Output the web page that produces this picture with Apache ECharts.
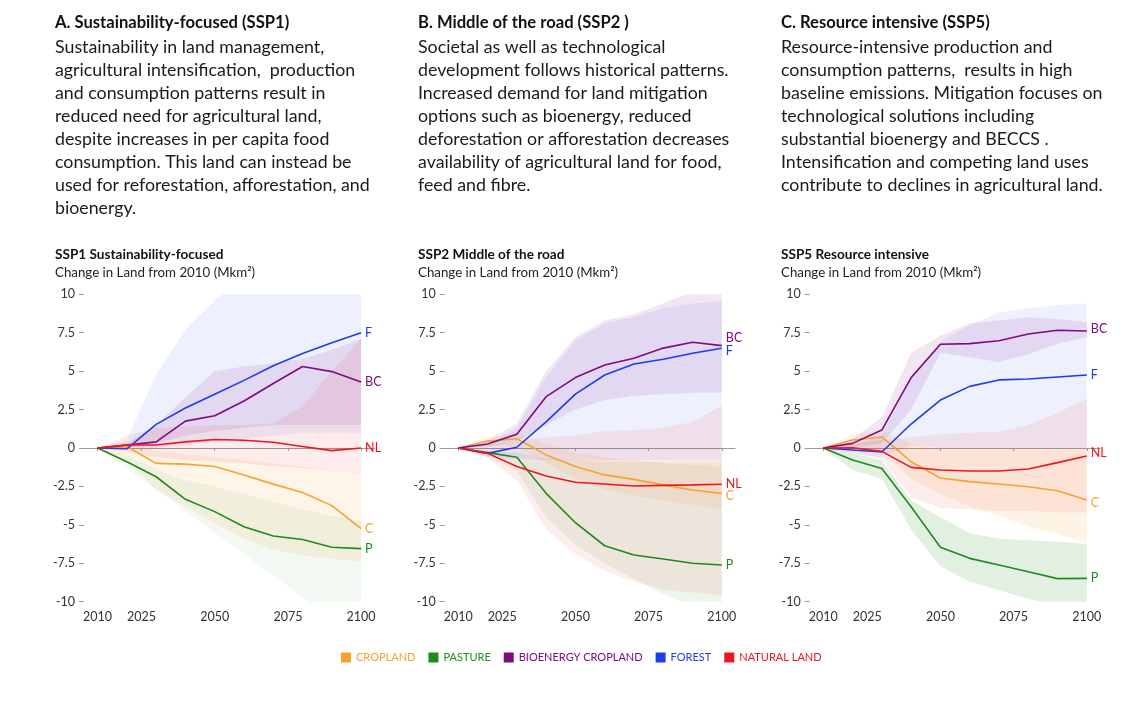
<!DOCTYPE html>
<html><head><meta charset="utf-8">
<script src="https://cdn.jsdelivr.net/npm/echarts@6/dist/echarts.min.js"></script>
<style>html,body{margin:0;padding:0;background:#fff}#main{width:1140px;height:705px}</style>
</head><body><div id="main"></div>
<script>
// ---------- DATA ----------
const years = [2010, 2020, 2030, 2040, 2050, 2060, 2070, 2080, 2090, 2100];
const xTickValues = [2010, 2025, 2050, 2075, 2100];
const landTypes = ['CROPLAND', 'PASTURE', 'BIOENERGY CROPLAND', 'FOREST', 'NATURAL LAND'];
const shortLabels = ['C', 'P', 'BC', 'F', 'NL'];

// SSP1 median paths
const ssp1_cropland = [0, 0.1, -1.0, -1.05, -1.2, -1.75, -2.35, -2.9, -3.75, -5.25];
const ssp1_pasture = [0, -0.9, -1.87, -3.34, -4.14, -5.12, -5.73, -5.95, -6.46, -6.55];
const ssp1_bioenergy = [0, 0.2, 0.4, 1.75, 2.1, 3.06, 4.2, 5.3, 4.97, 4.3];
const ssp1_forest = [0, -0.05, 1.54, 2.6, 3.5, 4.4, 5.35, 6.15, 6.85, 7.5];
const ssp1_natural = [0, 0.2, 0.2, 0.4, 0.55, 0.5, 0.37, 0.1, -0.17, 0.0];
// SSP1 ranges
const ssp1_cropland_lo = [0, -0.8, -2.7, -3.8, -4.9, -5.9, -6.6, -7.0, -7.2, -7.4];
const ssp1_cropland_hi = [0, 0.4, -0.2, -0.4, -0.6, -0.8, -1.0, -1.2, -1.5, -1.7];
const ssp1_pasture_lo = [0, -1.3, -2.7, -4.1, -5.5, -6.9, -8.3, -9.7, -11, -12];
const ssp1_pasture_hi = [0, -0.4, -1.4, -2.1, -2.5, -3.0, -3.5, -4.0, -4.4, -4.7];
const ssp1_bioenergy_lo = [0, 0, 0.3, 0.8, 1.1, 1.3, 1.5, 1.5, 1.5, 1.5];
const ssp1_bioenergy_hi = [0, 0.3, 1.5, 3.3, 5.0, 5.3, 5.5, 5.8, 6.4, 7.1];
const ssp1_forest_lo = [0, -0.1, 0, 0.2, 0.4, 0.6, 0.8, 1.0, 1.0, 1.0];
const ssp1_forest_hi = [0, 0.5, 4.8, 7.7, 9.6, 11, 12, 13, 14, 15];
const ssp1_natural_lo = [0, -0.3, -0.6, -0.8, -0.9, -1.0, -1.2, -1.3, -1.5, -1.7];
const ssp1_natural_hi = [0, 0.8, 1.3, 1.4, 1.5, 1.5, 1.6, 2.7, 5.0, 7.1];

// SSP2 median paths
const ssp2_cropland = [0, 0.45, 0.6, -0.45, -1.2, -1.75, -2.04, -2.4, -2.73, -2.95];
const ssp2_pasture = [0, -0.3, -0.6, -2.95, -4.86, -6.36, -6.96, -7.22, -7.5, -7.61];
const ssp2_bioenergy = [0, 0.26, 0.9, 3.34, 4.58, 5.4, 5.84, 6.5, 6.88, 6.66];
const ssp2_forest = [0, -0.35, 0.05, 1.7, 3.5, 4.75, 5.47, 5.77, 6.16, 6.49];
const ssp2_natural = [0, -0.35, -1.2, -1.82, -2.23, -2.34, -2.47, -2.43, -2.4, -2.36];
// SSP2 ranges
const ssp2_cropland_lo = [0, 0.1, 0.1, -1.0, -2.0, -2.7, -3.1, -3.4, -3.7, -4.0];
const ssp2_cropland_hi = [0, 0.7, 1.0, 0.3, -0.3, -0.6, -0.8, -1.0, -1.1, -1.2];
const ssp2_pasture_lo = [0, -0.6, -1.5, -4.5, -6.3, -7.5, -8.5, -9.5, -10.3, -10.8];
const ssp2_pasture_hi = [0, -0.2, -0.3, -0.7, -0.8, -0.9, -0.9, -0.9, -0.9, -0.9];
const ssp2_bioenergy_lo = [0, 0.1, 0.4, 1.5, 2.5, 3.1, 3.4, 3.5, 3.6, 3.6];
const ssp2_bioenergy_hi = [0, 0.5, 1.6, 5.0, 7.2, 8.3, 8.7, 9.4, 10.2, 10.5];
const ssp2_forest_lo = [0, -0.6, -0.7, -0.8, -0.8, -0.8, -0.8, -0.8, -0.8, -0.8];
const ssp2_forest_hi = [0, 0.2, 1.3, 4.6, 7.0, 8.1, 8.5, 9.1, 9.4, 9.55];
const ssp2_natural_lo = [0, -0.6, -2.1, -5.3, -6.9, -8.0, -8.7, -9.2, -9.4, -9.6];
const ssp2_natural_hi = [0, 0.2, 0.4, 0.7, 0.8, 1.1, 1.15, 1.3, 1.7, 2.75];

// SSP5 median paths
const ssp5_cropland = [0, 0.52, 0.72, -0.89, -1.95, -2.19, -2.34, -2.52, -2.78, -3.38];
const ssp5_pasture = [0, -0.78, -1.34, -3.82, -6.46, -7.18, -7.61, -8.05, -8.5, -8.48];
const ssp5_bioenergy = [0, 0.3, 1.17, 4.58, 6.75, 6.79, 6.98, 7.42, 7.66, 7.61];
const ssp5_forest = [0, -0.13, -0.26, 1.56, 3.12, 4.01, 4.43, 4.49, 4.62, 4.75];
const ssp5_natural = [0, 0.02, -0.22, -1.26, -1.43, -1.5, -1.5, -1.37, -0.95, -0.52];
// SSP5 ranges
const ssp5_cropland_lo = [0, 0, -0.2, -2.0, -3.0, -3.8, -4.4, -5.1, -5.6, -6.2];
const ssp5_cropland_hi = [0, 0.9, 1.1, 0.3, -0.1, -0.1, -0.1, -0.1, -0.1, -0.1];
const ssp5_pasture_lo = [0, -1.43, -2.0, -5.3, -7.7, -8.7, -9.25, -9.8, -10.3, -10.6];
const ssp5_pasture_hi = [0, -0.35, -0.8, -3.4, -4.5, -5.55, -5.9, -6.0, -6.1, -6.25];
const ssp5_bioenergy_lo = [0, 0, 0.3, 2.5, 6.2, 5.9, 5.6, 6.1, 6.8, 7.2];
const ssp5_bioenergy_hi = [0, 0.6, 2.0, 6.2, 7.3, 8.1, 8.3, 8.5, 8.4, 8.2];
const ssp5_forest_lo = [0, -0.4, -0.6, 0.2, 0, 0, 0, 0, 0, 0];
const ssp5_forest_hi = [0, 0.2, 0.8, 4.5, 6.9, 8.0, 8.8, 9.1, 9.3, 9.4];
const ssp5_natural_lo = [0, -0.3, -0.7, -3.2, -3.9, -4.0, -4.1, -4.1, -4.2, -4.2];
const ssp5_natural_hi = [0, 0.3, 0.5, 0.7, 0.9, 1.0, 1.06, 1.5, 2.3, 3.2];

// ---------- TEXT ----------
const chartTitles = ['SSP1 Sustainability-focused', 'SSP2 Middle of the road', 'SSP5 Resource intensive'];
const chartSubtitle = 'Change in Land from 2010 (Mkm²)';
const headings = ['A. Sustainability-focused (SSP1)', 'B. Middle of the road (SSP2 )', 'C. Resource intensive (SSP5)'];
const paragraphs = [
  ['Sustainability in land management,', 'agricultural intensification,  production', 'and consumption patterns result in', 'reduced need for agricultural land,', 'despite increases in per capita food', 'consumption. This land can instead be', 'used for reforestation, afforestation, and', 'bioenergy.'],
  ['Societal as well as technological', 'development follows historical patterns.', 'Increased demand for land mitigation', 'options such as bioenergy, reduced', 'deforestation or afforestation decreases', 'availability of agricultural land for food,', 'feed and fibre.'],
  ['Resource-intensive production and', 'consumption patterns,  results in high', 'baseline emissions. Mitigation focuses on', 'technological solutions including', 'substantial bioenergy and BECCS .', 'Intensification and competing land uses', 'contribute to declines in agricultural land.']
];

// ---------- STYLE / LAYOUT ----------
const colors = ['#F9A12E', '#1E8A1E', '#7E0B80', '#1F3BEA', '#F0141E'];
// band opacity per scenario (rows) and land type (columns)
const bandAlpha = [
  [0.11, 0.06, 0.10, 0.075, 0.085],
  [0.11, 0.08, 0.10, 0.075, 0.08],
  [0.12, 0.13, 0.10, 0.075, 0.08]
];
const FONT = 'Lato';
const gridLefts = [80, 440.7, 805.7];
const textLefts = [55, 418, 781];
const endLabelDy = [
  [0, 0, 0, 0, 0],
  [3, 0, -8, 3, 0],
  [3, 0, -2, 0, -3]
];

const scenarios = [
  { mid: [ssp1_cropland, ssp1_pasture, ssp1_bioenergy, ssp1_forest, ssp1_natural],
    lo: [ssp1_cropland_lo, ssp1_pasture_lo, ssp1_bioenergy_lo, ssp1_forest_lo, ssp1_natural_lo],
    hi: [ssp1_cropland_hi, ssp1_pasture_hi, ssp1_bioenergy_hi, ssp1_forest_hi, ssp1_natural_hi] },
  { mid: [ssp2_cropland, ssp2_pasture, ssp2_bioenergy, ssp2_forest, ssp2_natural],
    lo: [ssp2_cropland_lo, ssp2_pasture_lo, ssp2_bioenergy_lo, ssp2_forest_lo, ssp2_natural_lo],
    hi: [ssp2_cropland_hi, ssp2_pasture_hi, ssp2_bioenergy_hi, ssp2_forest_hi, ssp2_natural_hi] },
  { mid: [ssp5_cropland, ssp5_pasture, ssp5_bioenergy, ssp5_forest, ssp5_natural],
    lo: [ssp5_cropland_lo, ssp5_pasture_lo, ssp5_bioenergy_lo, ssp5_forest_lo, ssp5_natural_lo],
    hi: [ssp5_cropland_hi, ssp5_pasture_hi, ssp5_bioenergy_hi, ssp5_forest_hi, ssp5_natural_hi] }
];

function hexToRgba(hex, a) {
  const n = parseInt(hex.slice(1), 16);
  return 'rgba(' + ((n >> 16) & 255) + ',' + ((n >> 8) & 255) + ',' + (n & 255) + ',' + a + ')';
}

const grids = [], xAxes = [], yAxes = [], series = [], graphics = [];

scenarios.forEach((sc, k) => {
  grids.push({ left: gridLefts[k], top: 294.3, width: 294.3, height: 307.4, containLabel: false });
  xAxes.push({
    type: 'value', gridIndex: k, min: 2004, max: 2104.5,
    axisLine: { show: true, lineStyle: { color: '#9a9a9a', width: 1 } },
    axisTick: { show: true, length: 3, customValues: xTickValues, lineStyle: { color: '#9a9a9a' } },
    axisLabel: { customValues: xTickValues, color: '#333', fontSize: 12.5, margin: 9, fontFamily: FONT, formatter: v => String(v) },
    splitLine: { show: false }
  });
  yAxes.push({
    type: 'value', gridIndex: k, min: -10, max: 10, interval: 2.5, offset: -4,
    axisLine: { show: false },
    axisTick: { show: true, length: 5, lineStyle: { color: '#9a9a9a' } },
    axisLabel: { color: '#333', fontSize: 12.5, margin: 9, fontFamily: FONT },
    splitLine: { show: false }
  });

  // bands
  for (let i = 0; i < 5; i++) {
    const lo = sc.lo[i], hi = sc.hi[i];
    const fill = hexToRgba(colors[i], bandAlpha[k][i]);
    series.push({
      type: 'custom', name: 'band' + k + '_' + i, xAxisIndex: k, yAxisIndex: k,
      clip: true, silent: true, z: 1,
      data: years.map((y, j) => [y, lo[j], hi[j]]),
      encode: { x: 0, y: [1, 2] },
      renderItem: (params, api) => {
        if (params.dataIndex !== 0) return null;
        const pts = [];
        for (let j = 0; j < years.length; j++) pts.push(api.coord([years[j], hi[j]]));
        for (let j = years.length - 1; j >= 0; j--) pts.push(api.coord([years[j], lo[j]]));
        return { type: 'polygon', shape: { points: pts }, style: { fill: fill, stroke: null } };
      }
    });
  }
  // median lines
  for (let i = 0; i < 5; i++) {
    const arr = sc.mid[i];
    series.push({
      type: 'line', name: landTypes[i], xAxisIndex: k, yAxisIndex: k, z: 3,
      data: years.map((y, j) => [y, arr[j]]),
      showSymbol: false, symbol: 'none', silent: true,
      color: colors[i],
      lineStyle: { width: 1.6, color: colors[i] },
      endLabel: { show: true, formatter: shortLabels[i], color: colors[i], fontSize: 12.5, fontFamily: FONT, distance: 4, offset: [0, endLabelDy[k][i]] },
      emphasis: { disabled: true }
    });
  }

  // texts
  graphics.push({ type: 'text', x: textLefts[k], y: 11.5, silent: true,
    style: { text: headings[k], font: 'bold 16.6px ' + FONT, fill: '#111', verticalAlign: 'top', lineHeight: 23 } });
  graphics.push({ type: 'text', x: textLefts[k], y: 35.5, silent: true,
    style: { text: paragraphs[k].join('\n'), font: '17.8px ' + FONT, fill: '#1a1a1a', verticalAlign: 'top', lineHeight: 23 } });
  graphics.push({ type: 'text', x: textLefts[k], y: 247, silent: true,
    style: { text: chartTitles[k], font: 'bold 13.6px ' + FONT, fill: '#111', verticalAlign: 'top', lineHeight: 16 } });
  graphics.push({ type: 'text', x: textLefts[k], y: 264.5, silent: true,
    style: { text: chartSubtitle, font: '13.3px ' + FONT, fill: '#222', verticalAlign: 'top', lineHeight: 16 } });
});

const chart = echarts.init(document.getElementById('main'), null, { renderer: 'canvas' });
chart.setOption({
  animation: false,
  backgroundColor: '#fff',
  textStyle: { fontFamily: FONT },
  grid: grids, xAxis: xAxes, yAxis: yAxes, series: series,
  graphic: graphics,
  legend: {
    left: 336, top: 647, icon: 'rect', itemWidth: 10, itemHeight: 10, itemGap: 13,
    selectedMode: false,
    data: landTypes.map((n, i) => ({ name: n, textStyle: { color: colors[i] } })),
    textStyle: { fontSize: 11, fontFamily: FONT }
  }
});
</script></body></html>
